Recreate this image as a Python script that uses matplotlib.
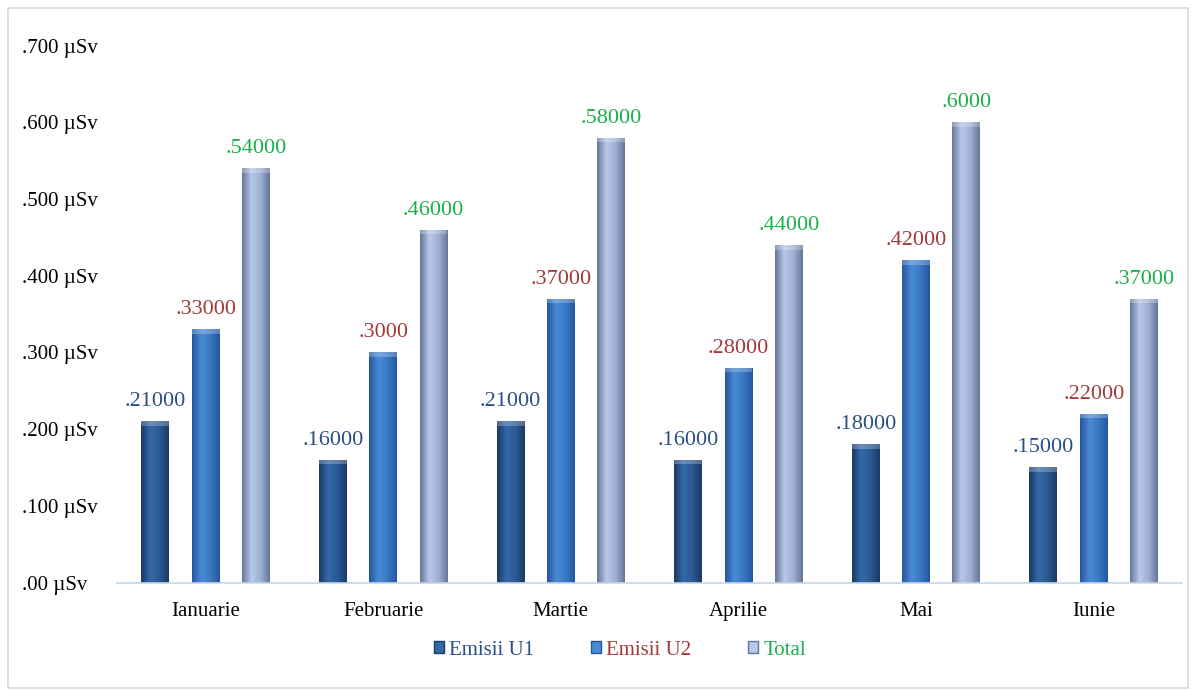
import numpy as np
import matplotlib
matplotlib.use('Agg')
import matplotlib.pyplot as plt
from matplotlib.colors import LinearSegmentedColormap
from matplotlib.patches import Rectangle, Patch

plt.rcParams['font.family'] = ['Liberation Serif', 'DejaVu Serif']

# data
months = ['Ianuarie', 'Februarie', 'Martie', 'Aprilie', 'Mai', 'Iunie']
emisii_u1 = [0.21, 0.16, 0.21, 0.16, 0.18, 0.15]
emisii_u2 = [0.33, 0.30, 0.37, 0.28, 0.42, 0.22]
total = [0.54, 0.46, 0.58, 0.44, 0.60, 0.37]
u1_labels = ['.21000', '.16000', '.21000', '.16000', '.18000', '.15000']
u2_labels = ['.33000', '.3000', '.37000', '.28000', '.42000', '.22000']
total_labels = ['.54000', '.46000', '.58000', '.44000', '.6000', '.37000']
y_ticks = [0, 0.1, 0.2, 0.3, 0.4, 0.5, 0.6, 0.7]
y_tick_labels = ['.00 µSv', '.100 µSv', '.200 µSv', '.300 µSv', '.400 µSv',
                 '.500 µSv', '.600 µSv', '.700 µSv']

series = [
    ('Emisii U1', emisii_u1, u1_labels, ['#1a3a66', '#3469a8', '#2c5a94', '#1a3a66'], '#2a4f86'),
    ('Emisii U2', emisii_u2, u2_labels, ['#2456a0', '#4a8ad6', '#3a78c4', '#2456a0'], '#a33a3a'),
    ('Total', total, total_labels, ['#66769a', '#b8c8e8', '#9eb0d4', '#66769a'], '#19b04b'),
]

fig = plt.figure(figsize=(11.92, 6.91), dpi=100)
ax = fig.add_axes([0.098, 0.157, 0.894, 0.777])

x = np.arange(len(months))
width = 0.157
offsets = [-0.283, 0.0, 0.283]
grad = np.linspace(0, 1, 64).reshape(1, -1)

for (name, vals, labels, cols, tcol), off in zip(series, offsets):
    cmap = LinearSegmentedColormap.from_list(name, cols)
    bars = ax.bar(x + off, vals, width, color='none', edgecolor='none')
    for bar, v, lab in zip(bars, vals, labels):
        x0 = bar.get_x()
        x1 = x0 + bar.get_width()
        im = ax.imshow(grad, cmap=cmap, extent=(x0, x1, 0, v), aspect='auto',
                       zorder=2, interpolation='bicubic')
        clip = Rectangle((x0, 0), x1 - x0, v, transform=ax.transData)
        im.set_clip_path(clip)
        # light bevel on top
        ax.add_patch(Rectangle((x0, v - 0.006), x1 - x0, 0.006, color='white',
                               alpha=0.25, lw=0, zorder=3))
        ax.text(bar.get_x() + bar.get_width() / 2, v + 0.013, lab, ha='center',
                va='bottom', fontsize=16, color=tcol)

ax.set_xlim(-0.5, len(months) - 0.5)
ax.set_ylim(0, 0.7)
ax.set_xticks(x)
ax.set_xticklabels(months, fontsize=15)
ax.set_yticks(y_ticks)
ax.set_yticklabels(y_tick_labels, fontsize=15, ha='left')
ax.tick_params(axis='x', length=0, pad=14)
ax.tick_params(axis='y', length=0, pad=68)
for s in ['top', 'right', 'left']:
    ax.spines[s].set_visible(False)
ax.spines['bottom'].set_color('#c5d5ea')
ax.spines['bottom'].set_linewidth(1.2)

handles = [Patch(facecolor=s[3][1], edgecolor=s[3][0], label=s[0]) for s in series]
leg = fig.legend(handles=handles, loc='center', bbox_to_anchor=(0.52, 0.059), ncol=3,
                 frameon=False, fontsize=15, handlelength=0.5, handleheight=0.5,
                 handletextpad=0.25, columnspacing=2.7)
for t, s in zip(leg.get_texts(), series):
    t.set_color(s[4])

# light frame around the chart area
fig.patches.append(Rectangle((0.007, 0.005), 0.99, 0.983, transform=fig.transFigure,
                             fill=False, edgecolor='#d9d9d9', lw=1.2))

fig.savefig('out.png', dpi=100)
